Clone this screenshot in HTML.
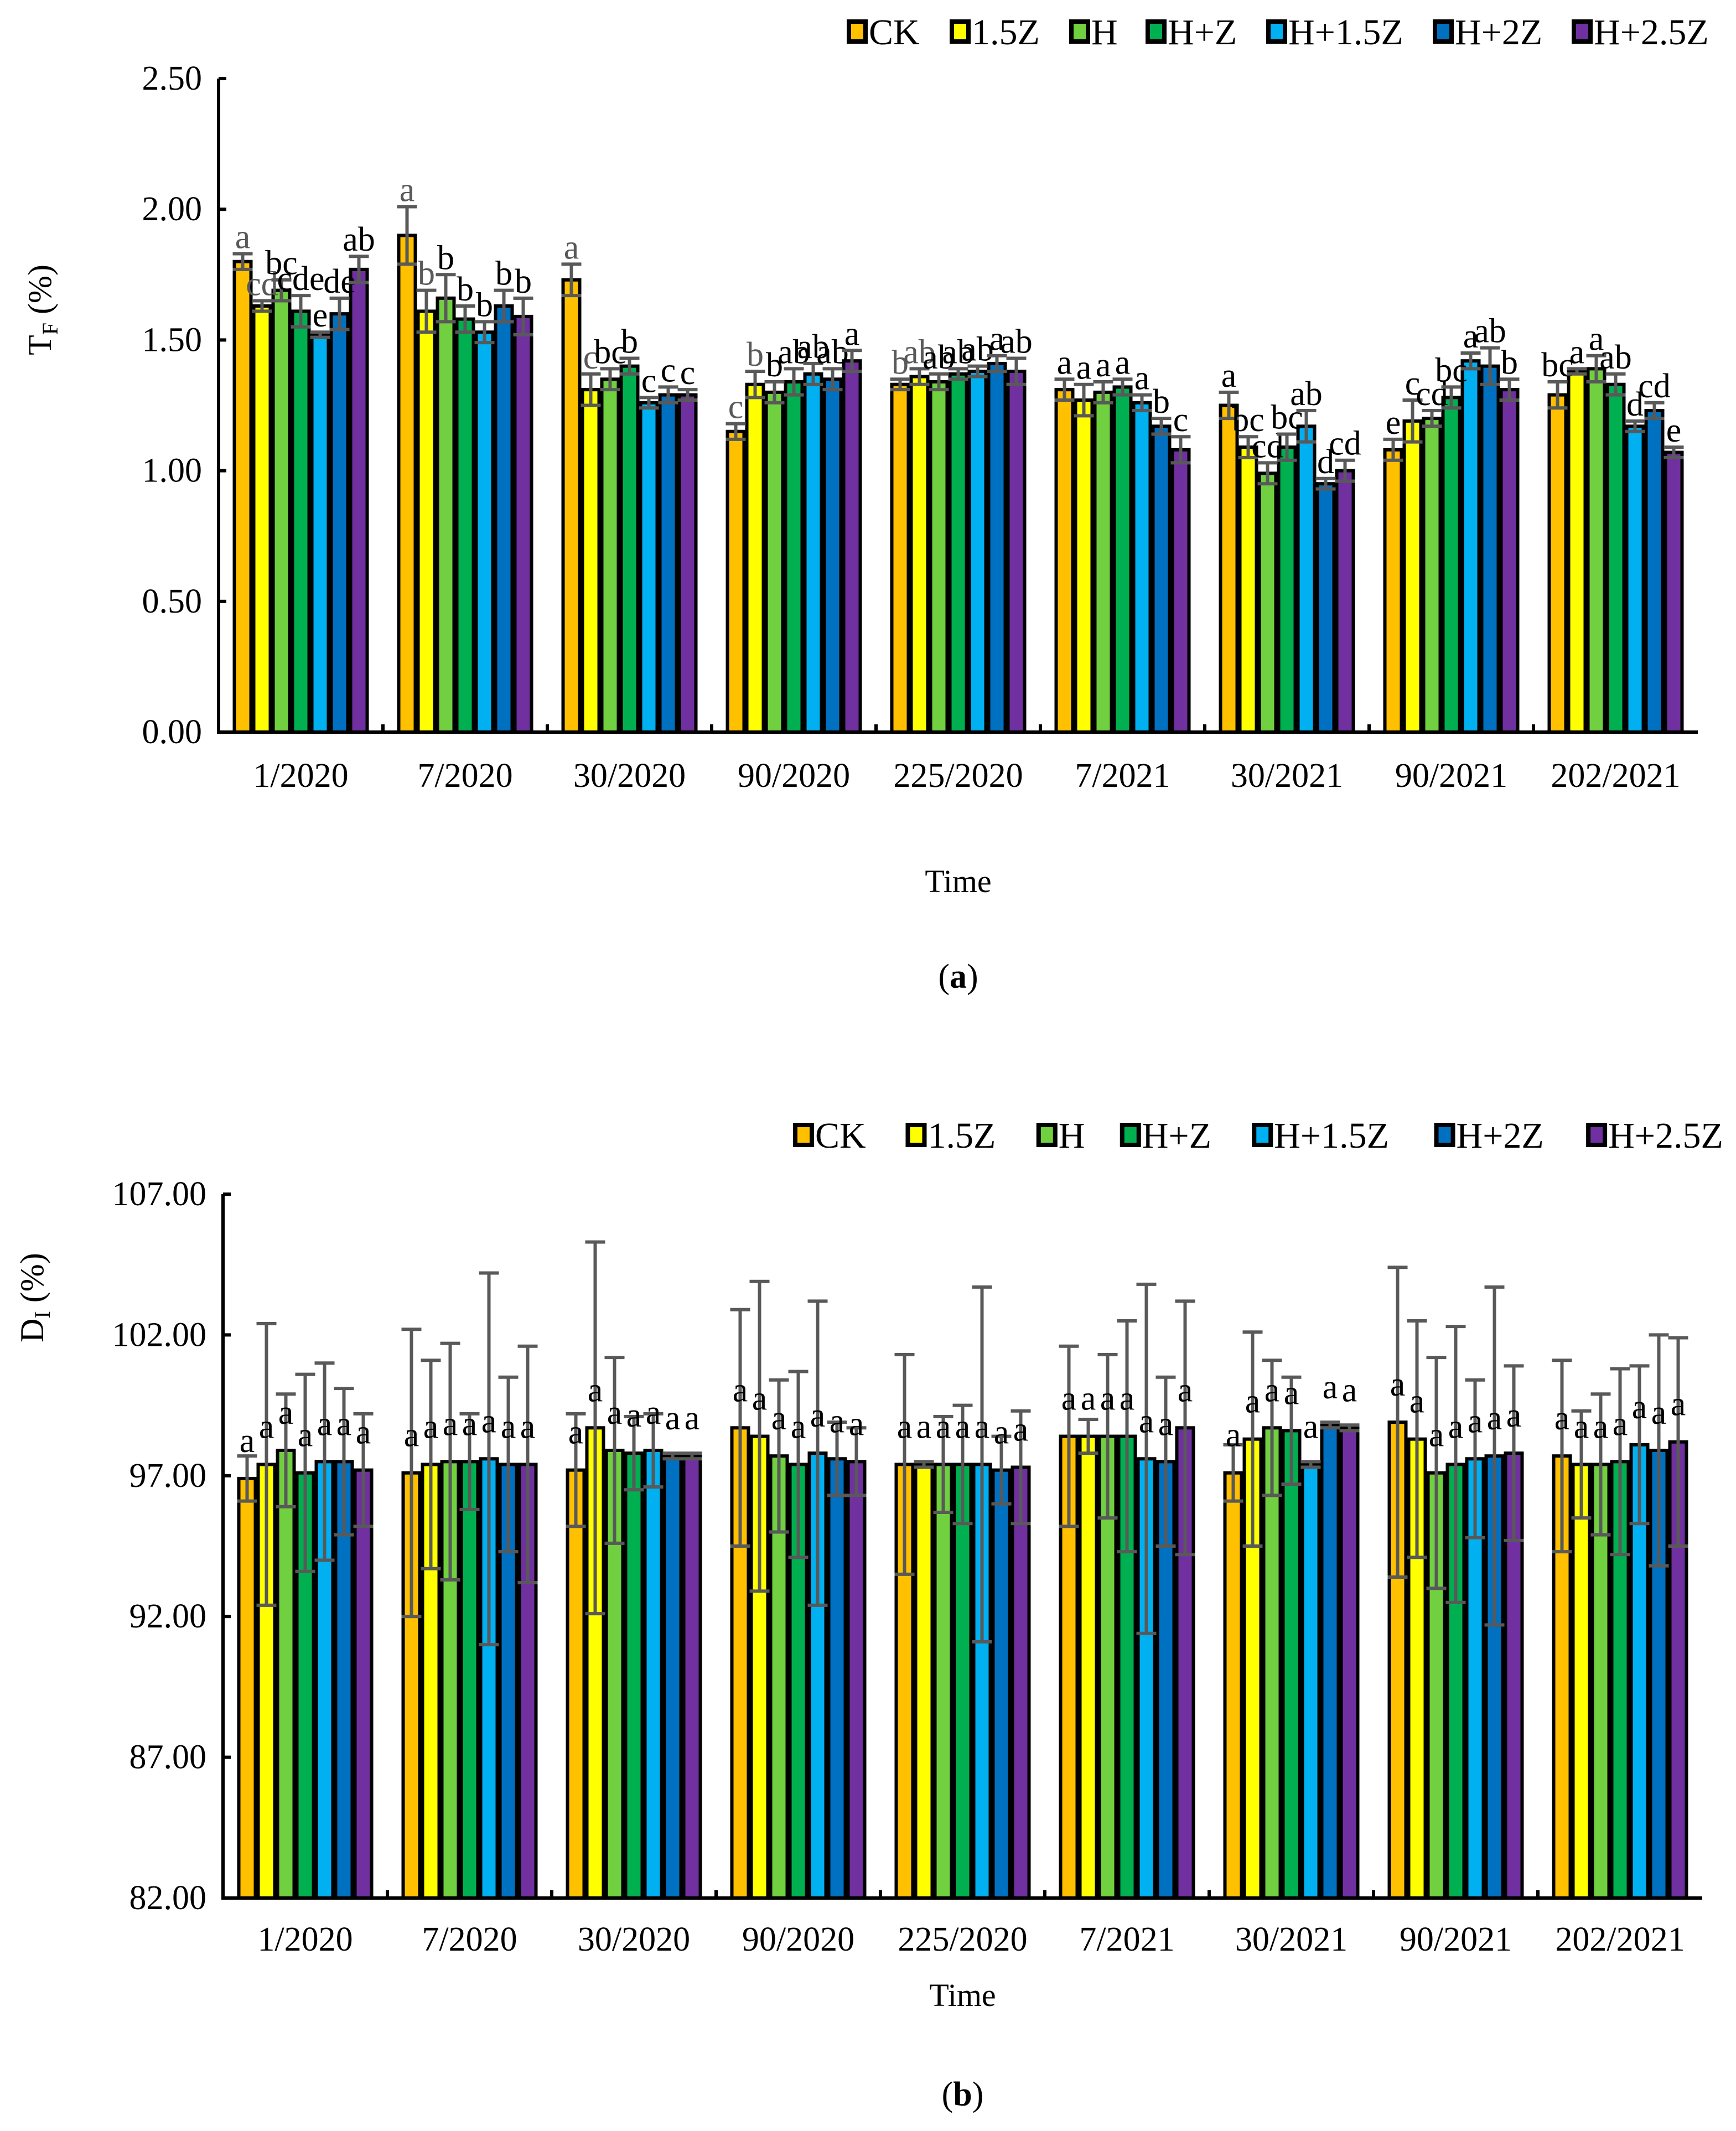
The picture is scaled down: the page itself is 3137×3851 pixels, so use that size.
<!DOCTYPE html>
<html><head><meta charset="utf-8">
<style>
html,body{margin:0;padding:0;background:#fff;}
svg{display:block;font-family:"Liberation Serif",serif;}
</style></head>
<body>
<svg id="chart" width="3137" height="3851" viewBox="0 0 3137 3851" xmlns="http://www.w3.org/2000/svg"></svg>
<script>
const categories = ["1/2020","7/2020","30/2020","90/2020","225/2020","7/2021","30/2021","90/2021","202/2021"];
const seriesNames = ["CK","1.5Z","H","H+Z","H+1.5Z","H+2Z","H+2.5Z"];
const colors = ["#FFC000","#FFFF00","#70D040","#00B050","#00B0F0","#0070C0","#7030A0"];
// Panel (a) T_F values [category][series]
const tfValues = [
 [1.80,1.63,1.69,1.61,1.52,1.60,1.77],
 [1.90,1.61,1.66,1.58,1.53,1.63,1.59],
 [1.73,1.31,1.35,1.40,1.26,1.29,1.29],
 [1.15,1.33,1.30,1.34,1.37,1.35,1.42],
 [1.33,1.36,1.34,1.37,1.38,1.41,1.38],
 [1.31,1.27,1.30,1.32,1.26,1.17,1.08],
 [1.25,1.09,0.99,1.09,1.17,0.95,1.00],
 [1.08,1.19,1.20,1.28,1.42,1.40,1.31],
 [1.29,1.38,1.39,1.33,1.17,1.23,1.07]];
const tfErrors = [
 [0.03,0.02,0.04,0.06,0.01,0.06,0.05],
 [0.11,0.08,0.09,0.05,0.04,0.06,0.07],
 [0.06,0.06,0.04,0.03,0.02,0.03,0.02],
 [0.03,0.05,0.04,0.05,0.04,0.04,0.04],
 [0.02,0.03,0.03,0.02,0.02,0.03,0.05],
 [0.04,0.06,0.04,0.03,0.03,0.03,0.05],
 [0.05,0.04,0.04,0.05,0.06,0.02,0.04],
 [0.04,0.08,0.03,0.04,0.03,0.07,0.04],
 [0.05,0.01,0.05,0.04,0.02,0.03,0.02]];
const tfLetters = [
 ["a","cd","bc","cde","e","de","ab"],
 ["a","b","b","b","b","b","b"],
 ["a","c","bc","b","c","c","c"],
 ["c","b","b","ab","ab","ab","a"],
 ["b","ab","ab","ab","ab","a","ab"],
 ["a","a","a","a","a","b","c"],
 ["a","bc","cd","bc","ab","d","cd"],
 ["e","c","cd","bc","a","ab","b"],
 ["bc","a","a","ab","d","cd","e"]];
const tfTicks = ["0.00","0.50","1.00","1.50","2.00","2.50"];
// Panel (b) D_I values
const diValues = [
 [96.9,97.4,97.9,97.1,97.5,97.5,97.2],
 [97.1,97.4,97.5,97.5,97.6,97.4,97.4],
 [97.2,98.7,97.9,97.8,97.9,97.7,97.7],
 [98.7,98.4,97.7,97.4,97.8,97.6,97.5],
 [97.4,97.4,97.4,97.4,97.4,97.2,97.3],
 [98.4,98.4,98.4,98.4,97.6,97.5,98.7],
 [97.1,98.3,98.7,98.6,97.4,98.8,98.7],
 [98.9,98.3,97.1,97.4,97.6,97.7,97.8],
 [97.7,97.4,97.4,97.5,98.1,97.9,98.2]];
const diErrors = [
 [0.8,5.0,2.0,3.5,3.5,2.6,2.0],
 [5.1,3.7,4.2,1.7,6.6,3.1,4.2],
 [2.0,6.6,3.3,1.3,1.3,0.1,0.1],
 [4.2,5.5,2.7,3.3,5.4,1.3,1.2],
 [3.9,0.1,1.7,2.1,6.3,1.2,2.0],
 [3.2,0.6,2.9,4.1,6.2,3.0,4.5],
 [1.0,3.8,2.4,1.9,0.1,0.1,0.1],
 [5.5,4.2,4.1,4.9,2.8,6.0,3.1],
 [3.4,1.9,2.5,3.3,2.8,4.1,3.7]];
const diTicks = ["82.00","87.00","92.00","97.00","102.00","107.00"];

const NS="http://www.w3.org/2000/svg";
const svg=document.getElementById('chart');
function mk(tag,attrs,parent){const e=document.createElementNS(NS,tag);for(const k in attrs)e.setAttribute(k,attrs[k]);(parent||svg).appendChild(e);return e;}

function panel(cfg){
  const g=mk('g',{});
  
  
  const yS=v=>cfg.y0-(v-cfg.vmin)/(cfg.vmax-cfg.vmin)*(cfg.y0-cfg.y1);
  const cw=cfg.cw;
  const xC=i=>cfg.x0+cw*(i+0.5);
  cfg.ticks.forEach(t=>{
    const y=yS(parseFloat(t));
    const l=mk('line',{x1:cfg.x0,x2:cfg.x0+14,y1:y,y2:y,stroke:'#000','stroke-width':6},g);
    
    
    const tx=mk('text',{x:cfg.x0-30,y:y+20,'text-anchor':'end','font-size':62},g);
    
    
    tx.textContent=t;
  });
  const bw=35;
  cfg.vals.forEach((row,i)=>{
    row.forEach((v,s)=>{
      const x=xC(i)+(s-3.5)*bw;
      const y=yS(v);
      const r=mk('rect',{x:x+2.5,y:y,width:bw-5,height:cfg.y0-y,fill:colors[s],stroke:'#000','stroke-width':6},g);
      
      
    });
  });
  cfg.vals.forEach((row,i)=>{
    row.forEach((v,s)=>{
      const cx=xC(i)+(s-3)*bw;
      const e=cfg.errs[i][s];
      const yt=yS(v+e), yb=yS(v-e);
      const eb=mk('path',{d:`M${cx} ${yt}V${yb}M${cx-18} ${yt}H${cx+18}M${cx-18} ${yb}H${cx+18}`,stroke:'#595959','stroke-width':6,fill:'none'},g);
      
      
      const lt=cfg.letters?cfg.letters[i][s]:'a';
      const col=(cfg.letters&&s<2&&i<5)?'#595959':'#000';
      const ly=cfg.letters?yt-10:yS(v)-48;
      const tx=mk('text',{x:cx,y:ly,'text-anchor':'middle','font-size':62,fill:col},g);
      
      
      tx.textContent=lt;
    });
  });
  const ax=mk('path',{d:`M${cfg.x0} ${cfg.y1}V${cfg.y0}H${cfg.x0+cw*9}`,stroke:'#000','stroke-width':6,fill:'none'},g);
  
  
  for(let i=1;i<9;i++){
    const x=cfg.x0+cw*i;
    const t=mk('line',{x1:x,x2:x,y1:cfg.y0,y2:cfg.y0-14,stroke:'#000','stroke-width':6},g);
    
    
  }
  categories.forEach((c,i)=>{
    const tx=mk('text',{x:xC(i),y:cfg.xly,'text-anchor':'middle','font-size':62},g);
    
    
    tx.textContent=c;
  });
  const tt=mk('text',{x:cfg.x0+cw*4.5,y:cfg.ty,'text-anchor':'middle','font-size':58},g);
  
  
  tt.textContent='Time';
  const yt=mk('text',{transform:`translate(${cfg.ytx},${cfg.yty}) rotate(-90)`,'text-anchor':'middle','font-size':60},g);
  
  
  yt.innerHTML=cfg.ytitle;
  const pl=mk('text',{x:cfg.x0+cw*4.5,y:cfg.ply,'text-anchor':'middle','font-size':62},g);
  
  
  pl.innerHTML='(<tspan font-weight="bold">'+cfg.plabel+'</tspan>)';
  cfg.legX.forEach((lx,s)=>{
    const r=mk('rect',{x:lx+4,y:cfg.legY-17,width:30,height:36,fill:colors[s],stroke:'#000','stroke-width':8},g);
    
    
    const tx=mk('text',{x:lx+40,y:cfg.legY+24,'font-size':66},g);
    
    
    tx.textContent=seriesNames[s];
  });
}
const legA=[1530,1716,1932,2070,2288,2589,2840];
panel({name:'panel-a',x0:395,y0:1323,y1:142,vmin:0,vmax:2.5,cw:297,ticks:tfTicks,vals:tfValues,errs:tfErrors,letters:tfLetters,
  xly:1422,ty:1612,ytx:92,yty:560,ytitle:'T<tspan font-size="40" dy="12">F</tspan><tspan dy="-12"> (%)</tspan>',ply:1785,plabel:'a',legX:legA,legY:56});
panel({name:'panel-b',x0:403,y0:3430,y1:2158,vmin:82,vmax:107,cw:297,ticks:diTicks,vals:diValues,errs:diErrors,letters:null,
  xly:3525,ty:3625,ytx:78,yty:2345,ytitle:'D<tspan font-size="40" dy="12">I</tspan><tspan dy="-12"> (%)</tspan>',ply:3805,plabel:'b',
  legX:legA.map(a=>1433+(a-1530)*1.094),legY:2050});
</script>
</body></html>
